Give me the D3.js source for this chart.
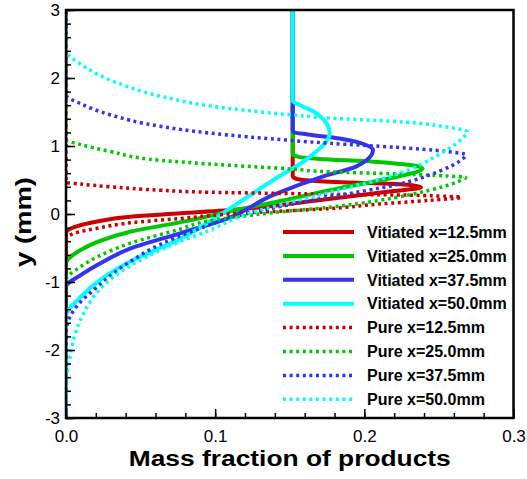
<!DOCTYPE html>
<html>
<head>
<meta charset="utf-8">
<script src="https://cdn.jsdelivr.net/npm/d3@7"></script>
<style>
	body { margin: 0; background: #fff; }
	svg { display: block; font-family: 'Liberation Sans', Arial, sans-serif; }
	.tick text { font-size: 17px; fill: #000; font-family: 'Liberation Sans', Arial, sans-serif; }
	.tick line { stroke: #000; stroke-width: 1.5; }
</style>
</head>
<body>
<svg id="chart" width="527" height="479"></svg>
<script>
// [mass fraction, y (mm)], bottom to top
const vitiated125 = [[0, -3], [0, -0.28], [0.006, -0.19], [0.021, -0.11], [0.043, -0.04], [0.077, 0.01], [0.117, 0.07], [0.161, 0.18], [0.217, 0.33], [0.238, 0.39], [0.222, 0.44], [0.195, 0.46], [0.165, 0.49], [0.154, 0.52], [0.152, 0.56], [0.152, 3]];
const vitiated250 = [[0, -3], [0, -0.73], [0.0098, -0.53], [0.021, -0.41], [0.043, -0.26], [0.077, -0.12], [0.1165, 0.07], [0.139, 0.17], [0.1835, 0.38], [0.217, 0.525], [0.239, 0.67], [0.206, 0.77], [0.17, 0.81], [0.156, 0.84], [0.152, 0.88], [0.152, 3]];
const vitiated375 = [[0, -3], [0, -1.07], [0.0098, -0.9], [0.021, -0.75], [0.043, -0.51], [0.077, -0.28], [0.1076, -0.07], [0.139, 0.28], [0.172, 0.55], [0.1947, 0.7], [0.2058, 0.94], [0.1835, 1.11], [0.162, 1.17], [0.153, 1.2], [0.152, 1.23], [0.152, 3]];
const vitiated500 = [[0, -3], [0, -1.5], [0.0098, -1.22], [0.021, -1.0], [0.043, -0.7], [0.077, -0.36], [0.1076, 0.05], [0.139, 0.5], [0.161, 0.8], [0.1768, 1.19], [0.168, 1.48], [0.157, 1.6], [0.152, 1.66], [0.152, 3]];
const pure125 = [[0, -3], [0, -0.37], [0.006, -0.28], [0.021, -0.21], [0.043, -0.13], [0.077, -0.065], [0.1165, 0.01], [0.177, 0.08], [0.21, 0.147], [0.2437, 0.2], [0.265, 0.245], [0.25, 0.265], [0.2214, 0.28], [0.1768, 0.29], [0.152, 0.3], [0.0964, 0.32], [0.063, 0.35], [0.0295, 0.4], [0.01, 0.44], [0, 0.466], [0, 3]];
const pure250 = [[0, -3], [0, -0.97], [0.0098, -0.775], [0.021, -0.63], [0.043, -0.43], [0.077, -0.22], [0.094, -0.11], [0.139, 0.02], [0.177, 0.1], [0.21, 0.2], [0.2437, 0.35], [0.262, 0.47], [0.268, 0.54], [0.255, 0.56], [0.2214, 0.59], [0.1768, 0.62], [0.152, 0.66], [0.0964, 0.735], [0.063, 0.79], [0.0295, 0.92], [0.01, 1.02], [0, 1.09], [0, 3]];
const pure375 = [[0, -3], [0, -1.75], [0.0054, -1.41], [0.021, -1.07], [0.043, -0.7], [0.063, -0.45], [0.085, -0.25], [0.1165, -0.02], [0.1768, 0.25], [0.2214, 0.43], [0.2504, 0.63], [0.264, 0.78], [0.268, 0.87], [0.255, 0.92], [0.2214, 0.98], [0.1768, 1.04], [0.152, 1.08], [0.0964, 1.19], [0.063, 1.29], [0.0295, 1.46], [0.01, 1.62], [0, 1.75], [0, 3]];
const pure500 = [[0, -3], [0, -2.6], [0.0027, -2.1], [0.0098, -1.55], [0.021, -1.15], [0.032, -0.92], [0.054, -0.63], [0.077, -0.4], [0.094, -0.26], [0.119, -0.02], [0.1768, 0.32], [0.2214, 0.58], [0.2504, 0.88], [0.265, 1.1], [0.269, 1.21], [0.255, 1.28], [0.2214, 1.36], [0.1768, 1.41], [0.15, 1.46], [0.0964, 1.59], [0.063, 1.735], [0.0295, 1.97], [0.01, 2.2], [0, 2.41], [0, 3]];

const seriesNames = ['Vitiated x=12.5mm', 'Vitiated x=25.0mm', 'Vitiated x=37.5mm', 'Vitiated x=50.0mm',
	'Pure x=12.5mm', 'Pure x=25.0mm', 'Pure x=37.5mm', 'Pure x=50.0mm'];
const seriesData = [vitiated125, vitiated250, vitiated375, vitiated500, pure125, pure250, pure375, pure500];

const xTicks = [0, 0.1, 0.2, 0.3];
const xMinorTicks = d3.range(0, 0.3001, 0.02);
const yTicks = [-3, -2, -1, 0, 1, 2, 3];
const yMinorTicks = d3.range(-3, 3.001, 0.2);

const ProductsChart = {
	left: 66,
	right: 513.5,
	top: 10,
	bottom: 418,
	colors: ['#cc0000', '#00c800', '#3333f0', '#00ffff'],

	draw: function() {
		const self = this;
		let svg = d3.select('#chart');
		let xScale = d3.scaleLinear().domain([ 0, 0.3 ]).range([ self.left, self.right ]);
		let yScale = d3.scaleLinear().domain([ -3, 3 ]).range([ self.bottom, self.top ]);

		self.drawCurves(svg, xScale, yScale);
		self.drawAxes(svg, xScale, yScale);
		self.drawLegend(svg);
	},

	style: function(i) {
		return {
			color: this.colors[i % 4],
			dotted: i >= 4
		};
	},

	drawCurves: function(svg, xScale, yScale) {
		const self = this;
		let line = d3.line()
			.x(d => xScale(d[0]))
			.y(d => yScale(d[1]))
			.curve(d3.curveMonotoneY);

		svg.append('clipPath')
			.attr('id', 'plot-clip')
			.append('rect')
			.attr('x', self.left)
			.attr('y', self.top)
			.attr('width', self.right - self.left)
			.attr('height', self.bottom - self.top);

		svg.append('g')
			.attr('clip-path', 'url(#plot-clip)')
			.selectAll('path')
			.data(seriesData)
			.join('path')
			.attr('d', line)
			.attr('fill', 'none')
			.attr('stroke', (d, i) => self.style(i).color)
			.attr('stroke-width', (d, i) => self.style(i).dotted ? 3.5 : 4)
			.attr('stroke-dasharray', (d, i) => self.style(i).dotted ? '3,3.6' : null)
			.attr('stroke-linejoin', 'round');
	},

	drawAxes: function(svg, xScale, yScale) {
		const self = this;

		// minor ticks first, major ticks with labels on top
		svg.append('g')
			.attr('transform', 'translate(0,' + self.bottom + ')')
			.call(d3.axisBottom(xScale).tickValues(xMinorTicks).tickSizeInner(-5).tickSizeOuter(0).tickFormat(''))
			.call(g => g.select('.domain').remove());
		svg.append('g')
			.attr('transform', 'translate(0,' + self.bottom + ')')
			.call(d3.axisBottom(xScale).tickValues(xTicks).tickSizeInner(-9).tickSizeOuter(0).tickPadding(12).tickFormat(d3.format('.1f')))
			.call(g => g.select('.domain').remove());

		svg.append('g')
			.attr('transform', 'translate(' + self.left + ',0)')
			.call(d3.axisLeft(yScale).tickValues(yMinorTicks).tickSizeInner(-5).tickSizeOuter(0).tickFormat(''))
			.call(g => g.select('.domain').remove());
		svg.append('g')
			.attr('transform', 'translate(' + self.left + ',0)')
			.call(d3.axisLeft(yScale).tickValues(yTicks).tickSizeInner(-9).tickSizeOuter(0).tickPadding(6).tickFormat(d => String(d)))
			.call(g => g.select('.domain').remove());

		svg.append('rect')
			.attr('x', self.left)
			.attr('y', self.top)
			.attr('width', self.right - self.left)
			.attr('height', self.bottom - self.top)
			.attr('fill', 'none')
			.attr('stroke', '#000')
			.attr('stroke-width', 2.5);

		svg.append('text')
			.attr('x', (self.left + self.right) / 2)
			.attr('y', 466)
			.attr('text-anchor', 'middle')
			.attr('textLength', 322)
			.attr('lengthAdjust', 'spacingAndGlyphs')
			.style('font-size', '22px')
			.style('font-weight', 'bold')
			.text('Mass fraction of products');

		svg.append('text')
			.attr('transform', 'translate(31,222) rotate(-90)')
			.attr('text-anchor', 'middle')
			.attr('textLength', 90)
			.attr('lengthAdjust', 'spacingAndGlyphs')
			.style('font-size', '22px')
			.style('font-weight', 'bold')
			.text('y (mm)');
	},

	drawLegend: function(svg) {
		const self = this;
		let rowTop = 232;
		let rowGap = 23.9;

		let rows = svg.append('g')
			.selectAll('g')
			.data(seriesNames)
			.join('g')
			.attr('transform', (d, i) => 'translate(0,' + (rowTop + i * rowGap) + ')');

		rows.append('line')
			.attr('x1', 283)
			.attr('x2', 354)
			.attr('stroke', (d, i) => self.style(i).color)
			.attr('stroke-width', (d, i) => self.style(i).dotted ? 3.5 : 4)
			.attr('stroke-dasharray', (d, i) => self.style(i).dotted ? '3,3.6' : null);

		rows.append('text')
			.attr('x', 367)
			.attr('dy', '0.36em')
			.style('font-size', '16px')
			.style('font-weight', 'bold')
			.text(d => d);
	}
}

ProductsChart.draw();
</script>
</body>
</html>
